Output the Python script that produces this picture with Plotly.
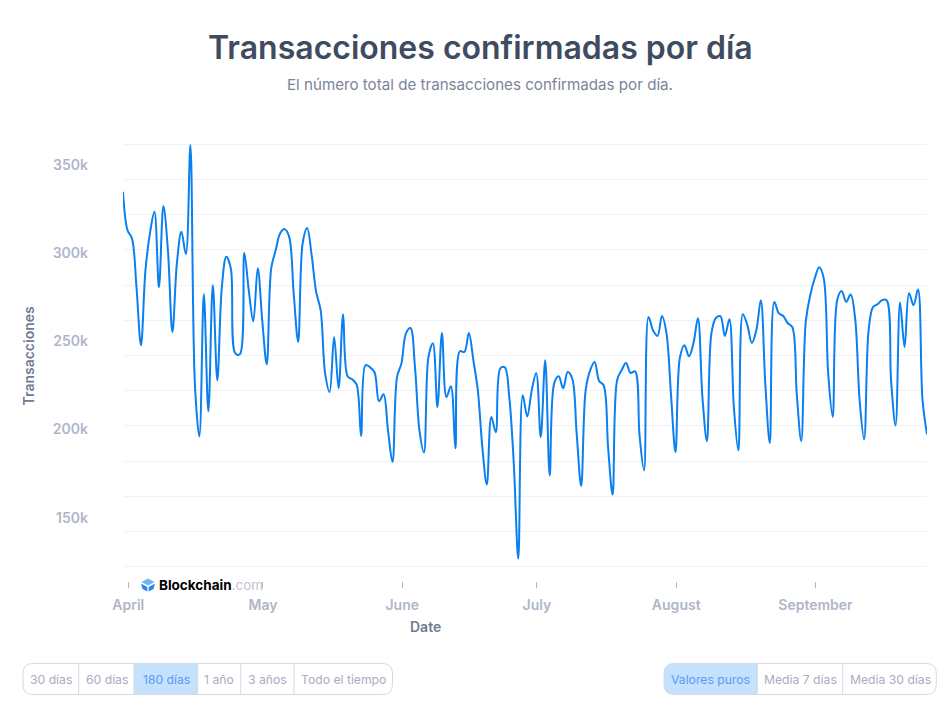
import pandas as pd
import plotly.graph_objects as go

# daily confirmed transactions
values = [
    332900, 311100, 306400, 278900, 245800, 288400, 309300, 321500, 278700, 324800,
    299800, 253300, 292400, 310200, 297500, 359400, 224200, 194100, 274800, 208300,
    279900, 225900, 278700, 296000, 289500, 241200, 240700, 298200, 277000, 259400,
    289500, 260000, 235000, 289500, 299800, 309400, 311700, 307300, 275300, 247700,
    303700, 312300, 296900, 276100, 265700, 229900, 219300, 250500, 221400, 263400,
    228200, 226500, 223600, 194300, 234600, 233300, 230500, 214000, 218000, 197500,
    179500, 227600, 235600, 252600, 255600, 233500, 197500, 185000, 239100, 246900,
    210700, 252800, 216400, 222500, 187300, 242400, 242000, 252800, 237300, 220200,
    188000, 166800, 205100, 196500, 232700, 233300, 216400, 178800, 124800, 217400,
    205400, 220200, 230100, 193700, 237300, 171900, 224200, 228200, 221400, 230600,
    227000, 195800, 165900, 220200, 231600, 236300, 225500, 223100, 188000, 161100,
    225900, 231600, 235700, 230100, 231000, 194700, 174800, 261900, 254300, 251100,
    262400, 252600, 218000, 185200, 239100, 245800, 239500, 246900, 261100, 216400,
    191400, 252600, 261300, 262300, 251100, 260600, 210700, 186100, 263400, 257200,
    247100, 254300, 271400, 224000, 190300, 270400, 264000, 262400, 258300, 256200,
    218300, 191400, 258900, 274200, 283700, 290100, 283900, 229900, 205100, 271400,
    276600, 270400, 274600, 261000, 214500, 192400, 254300, 267600, 269100, 271400,
    271400, 225900, 200300, 270000, 244800, 275300, 268500, 277400, 215000, 195200,
]
dates = pd.date_range("2023-03-30 20:00", periods=len(values), freq="D")

month_ticks = ["2023-04-01", "2023-05-01", "2023-06-01", "2023-07-01", "2023-08-01", "2023-09-01"]
month_labels = ["April", "May", "June", "July", "August", "September"]
y_ticks = [150000, 200000, 250000, 300000, 350000]
y_labels = ["150k", "200k", "250k", "300k", "350k"]

period_labels = ["30 días", "60 días", "180 días", "1 año", "3 años", "Todo el tiempo"]
period_centers = [51, 106.5, 166, 219, 267.5, 343]
period_dividers = [78.7, 134, 197.7, 240.7, 294]
mode_labels = ["Valores puros", "Media 7 días", "Media 30 días"]
mode_centers = [710.5, 800, 890]
mode_dividers = [757.3, 842.7]

WIDTH, HEIGHT = 940, 716
LEFT, RIGHT, TOP, BOTTOM = 123, 927, 140, 581
K_PER_PX = 568.2

FONT = "Inter"
LINE_BLUE = "#0a7ff0"
TICK_GREY = "#b0b5ca"
TITLE_GREY = "#3f4b60"
SUB_GREY = "#7b8499"
AXIS_GREY = "#6f7b91"
GRID = "#f1f2f7"
BORDER = "#d5d9e5"
BTN_TEXT = "#a9adc0"
BTN_ACTIVE = "#5a9bf5"
BTN_FILL = "#c4e1fd"


def px_x(p):
    return (p - LEFT) / (RIGHT - LEFT)


def px_y(p):
    return (BOTTOM - p) / (BOTTOM - TOP)


def label(x, y, text, size, color, weight=400, anchor="center", angle=0):
    return dict(x=px_x(x), y=px_y(y), xref="paper", yref="paper", text=text, showarrow=False,
                xanchor=anchor, yanchor="middle", textangle=angle,
                font=dict(family=FONT, size=size, color=color, weight=weight))


def round_box(x0, x1, y0, y1, r=10, left=True, right=True):
    # path in page pixels, turned into paper coords
    def p(a, b):
        return f"{px_x(a)} {px_y(b)}"
    path = f"M {p(x0 + (r if left else 0), y0)} L {p(x1 - (r if right else 0), y0)} "
    if right:
        path += f"Q {p(x1, y0)} {p(x1, y0 + r)} L {p(x1, y1 - r)} Q {p(x1, y1)} {p(x1 - r, y1)} "
    else:
        path += f"L {p(x1, y1)} "
    path += f"L {p(x0 + (r if left else 0), y1)} "
    if left:
        path += f"Q {p(x0, y1)} {p(x0, y1 - r)} L {p(x0, y0 + r)} Q {p(x0, y0)} {p(x0 + r, y0)} "
    else:
        path += f"L {p(x0, y0)} "
    return path + "Z"


def poly(points):
    return "M " + " L ".join(f"{px_x(a)} {px_y(b)}" for a, b in points) + " Z"


def button_group(x0, x1, dividers, active_x0, active_x1, rounded_active=False):
    y0, y1 = 663.5, 694.5
    out = []
    out.append(dict(type="path", xref="paper", yref="paper", line=dict(width=0), fillcolor=BTN_FILL,
                    path=round_box(active_x0, active_x1, y0, y1, left=rounded_active, right=False, r=10)))
    out.append(dict(type="path", xref="paper", yref="paper", line=dict(color=BORDER, width=1),
                    path=round_box(x0, x1, y0, y1)))
    for d in dividers:
        out.append(dict(type="line", xref="paper", yref="paper", x0=px_x(d), x1=px_x(d),
                        y0=px_y(y0), y1=px_y(y1), line=dict(color=BORDER, width=1)))
    return out


fig = go.Figure()
fig.add_trace(go.Scatter(x=dates, y=values, mode="lines",
                         line=dict(color=LINE_BLUE, width=2, shape="spline", smoothing=1),
                         hoverinfo="x+y", showlegend=False))
# empty trace so the label axis gets drawn
fig.add_trace(go.Scatter(x=[dates[0]], y=[None], yaxis="y2", showlegend=False, hoverinfo="skip"))

hi = 360000 + (144 - TOP) * K_PER_PX
lo = 120000 - (BOTTOM - 567) * K_PER_PX
label_shift = 3.5 * K_PER_PX

shapes = button_group(23, 392.5, period_dividers, 134, 197.7)
shapes += button_group(664, 936.3, mode_dividers, 664, 757.3, rounded_active=True)
# Blockchain logo
shapes += [
    dict(type="path", xref="paper", yref="paper", line=dict(width=0), fillcolor="#6db3f7",
         path=poly([(148, 578.5), (154.5, 582), (148, 585.5), (141.5, 582)])),
    dict(type="path", xref="paper", yref="paper", line=dict(width=0), fillcolor="#2a86ec",
         path=poly([(141, 583.5), (147.3, 587), (147.3, 591.5), (142.5, 589)])),
    dict(type="path", xref="paper", yref="paper", line=dict(width=0), fillcolor="#2a86ec",
         path=poly([(155, 583.5), (148.7, 587), (148.7, 591.5), (153.5, 589)])),
]

annotations = [
    label(480, 47.5, "Transacciones confirmadas por día", 32, TITLE_GREY, 600),
    label(480, 85, "El número total de transacciones confirmadas por día.", 15.15, SUB_GREY),
    label(425, 626, "Date", 14, AXIS_GREY, 600),
    label(28, 355.5, "Transacciones", 14, AXIS_GREY, 600, angle=-90),
    label(157, 585, "<b>Blockchain</b><span style=\"color:#bfc3d0\">.com</span>", 13.5, "#000000", anchor="left"),
]
for text, c in zip(period_labels, period_centers):
    annotations.append(label(c, 679, text, 12.2, BTN_ACTIVE if text == "180 días" else BTN_TEXT))
for text, c in zip(mode_labels, mode_centers):
    annotations.append(label(c, 679, text, 12.2, BTN_ACTIVE if text == "Valores puros" else BTN_TEXT))

fig.update_layout(
    width=WIDTH, height=HEIGHT,
    margin=dict(l=LEFT, r=WIDTH - RIGHT, t=TOP, b=HEIGHT - BOTTOM, pad=0),
    paper_bgcolor="white", plot_bgcolor="white",
    showlegend=False,
    font=dict(family=FONT),
    xaxis=dict(type="date", range=[dates[0], dates[-1]], tickvals=month_ticks, ticktext=month_labels,
               ticks="outside", ticklen=6, tickwidth=1, tickcolor=TICK_GREY, showgrid=False,
               showline=False, zeroline=False, ticklabelstandoff=5,
               tickfont=dict(family=FONT, size=14, color=TICK_GREY, weight=600)),
    yaxis=dict(range=[lo, hi], tick0=120000, dtick=20000, showgrid=True, gridcolor=GRID, gridwidth=1,
               showline=False, zeroline=False, showticklabels=False, ticks=""),
    yaxis2=dict(overlaying="y", side="left", range=[lo + label_shift, hi + label_shift],
                tickvals=y_ticks, ticktext=y_labels, showgrid=False, showline=False, zeroline=False,
                ticks="", ticklabelstandoff=34,
                tickfont=dict(family=FONT, size=14, color=TICK_GREY, weight=600)),
    shapes=shapes,
    annotations=annotations,
)

# browser default body margin would push the chart 8px in
fig.write_html("out.html", config={"displayModeBar": False},
               post_script="document.body.style.margin = '0';")
